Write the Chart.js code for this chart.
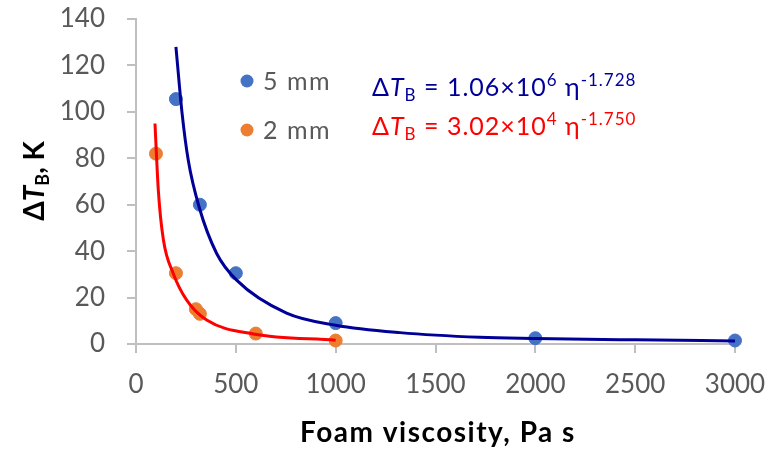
<!DOCTYPE html>
<html>
<head>
<meta charset="utf-8">
<script src="https://cdn.jsdelivr.net/npm/chart.js@4.4.1/dist/chart.umd.min.js"></script>
<style>
  body { margin: 0; background: #fff; }
  #wrap { width: 775px; height: 450px; position: relative; }
</style>
</head>
<body>
<div id="wrap"><canvas id="myChart"></canvas></div>
<script>
// measured points
var viscosity5 = [200, 320, 500, 1000, 2000, 3000];
var deltaT5 = [105.5, 60, 30.5, 9, 2.5, 1.5];
var viscosity2 = [100, 200, 300, 320, 600, 1000];
var deltaT2 = [82, 30.5, 15, 13, 4.5, 1.5];

// trend lines
var fitX5 = [200, 230, 262, 316, 404, 504, 754, 1000, 1322, 1722, 2000, 2500, 3000];
var fitY5 = [128, 100, 79, 59, 39, 27.5, 13.3, 8.1, 4.9, 2.9, 2.4, 1.8, 1.3];
var fitX2 = [95, 112, 137, 187, 254, 354, 588, 1000];
var fitY2 = [95, 66, 45, 30.3, 18.9, 10.3, 4.3, 1.6];

var seriesLabels = ['5 mm', '2 mm'];
var xTicks = [0, 500, 1000, 1500, 2000, 2500, 3000];
var yTicks = [0, 20, 40, 60, 80, 100, 120, 140];

function pts(xs, ys) {
    return xs.map(function (x, i) { return { x: x, y: ys[i] }; });
}

var FONT = 'Lato, "Open Sans", sans-serif';

// draws text made of several styled pieces
function drawRich(ctx, parts, x, y) {
    var cx = x;
    parts.forEach(function (p) {
        ctx.font = p.font;
        ctx.fillText(p.t, cx, y + (p.dy || 0));
        cx += ctx.measureText(p.t).width;
    });
}
function richWidth(ctx, parts) {
    var w = 0;
    parts.forEach(function (p) { ctx.font = p.font; w += ctx.measureText(p.t).width; });
    return w;
}

function equation(a, e, ex) {
    return [
        { t: 'Δ', font: '25px ' + FONT },
        { t: 'T', font: 'italic 25px ' + FONT },
        { t: 'B', font: '17px ' + FONT, dy: 5 },
        { t: ' = ' + a + '×10', font: '25px ' + FONT },
        { t: e, font: '17px ' + FONT, dy: -10 },
        { t: ' η', font: '25px ' + FONT },
        { t: ex, font: '17px ' + FONT, dy: -10 }
    ];
}

var textPlugin = {
    id: 'texts',
    afterDraw: function (chart) {
        var ctx = chart.ctx;
        ctx.save();
        ctx.textBaseline = 'alphabetic';

        // legend
        var legendY = [81, 130];
        var legendColors = ['#4472C4', '#ED7D31'];
        for (var i = 0; i < 2; i++) {
            ctx.fillStyle = legendColors[i];
            ctx.beginPath();
            ctx.arc(247, legendY[i], 6.5, 0, Math.PI * 2);
            ctx.fill();
            ctx.fillStyle = '#595959';
            ctx.font = '25px ' + FONT;
            ctx.letterSpacing = '1.5px';
            ctx.fillText(seriesLabels[i], 263, legendY[i] + 9);
        }

        // equations
        ctx.letterSpacing = '1px';
        ctx.fillStyle = '#000099';
        drawRich(ctx, equation('1.06', '6', '-1.728'), 372, 96);
        ctx.fillStyle = '#FF0000';
        drawRich(ctx, equation('3.02', '4', '-1.750'), 372, 135);

        // axis titles
        ctx.fillStyle = '#000';
        ctx.font = 'bold 28px ' + FONT;
        ctx.letterSpacing = '1.5px';
        ctx.textAlign = 'center';
        ctx.fillText('Foam viscosity, Pa s', 438, 442);
        ctx.textAlign = 'left';

        ctx.letterSpacing = '0px';
        var yTitle = [
            { t: 'Δ', font: 'bold 28px ' + FONT },
            { t: 'T', font: 'bold italic 28px ' + FONT },
            { t: 'B', font: 'bold 18px ' + FONT, dy: 5 },
            { t: ', K', font: 'bold 28px ' + FONT }
        ];
        ctx.translate(44, 181);
        ctx.rotate(-Math.PI / 2);
        drawRich(ctx, yTitle, -richWidth(ctx, yTitle) / 2, 0);
        ctx.restore();
    }
};

var ctx = document.getElementById('myChart');
var myChart = new Chart(ctx, {
    type: 'scatter',
    data: {
        datasets: [
            {
                label: '5 mm',
                data: pts(viscosity5, deltaT5),
                backgroundColor: '#4472C4',
                borderColor: '#4472C4',
                pointRadius: 6.5,
                clip: false,
                order: 1
            },
            {
                label: '2 mm',
                data: pts(viscosity2, deltaT2),
                backgroundColor: '#ED7D31',
                borderColor: '#ED7D31',
                pointRadius: 6.5,
                clip: false,
                order: 1
            },
            {
                label: 'fit 5 mm',
                data: pts(fitX5, fitY5),
                showLine: true,
                borderColor: '#000099',
                borderWidth: 3,
                pointRadius: 0,
                cubicInterpolationMode: 'monotone',
                clip: false,
                order: 0
            },
            {
                label: 'fit 2 mm',
                data: pts(fitX2, fitY2),
                showLine: true,
                borderColor: '#FF0000',
                borderWidth: 3,
                pointRadius: 0,
                cubicInterpolationMode: 'monotone',
                clip: false,
                order: 0
            }
        ]
    },
    options: {
        responsive: true,
        maintainAspectRatio: false,
        animation: false,
        layout: { padding: { top: 19, right: 40, left: 0, bottom: 0 } },
        plugins: {
            legend: { display: false },
            tooltip: { enabled: false }
        },
        scales: {
            x: {
                type: 'linear',
                min: 0,
                max: 3000,
                afterBuildTicks: function (scale) {
                    scale.ticks = xTicks.map(function (v) { return { value: v }; });
                },
                afterFit: function (scale) {
                    scale.height = 106;
                    scale.paddingLeft = 0;
                    scale.paddingRight = 0;
                },
                grid: { drawOnChartArea: false, drawTicks: true, tickLength: 9, color: '#BFBFBF', lineWidth: 2 },
                border: { color: '#BFBFBF', width: 2 },
                ticks: {
                    color: '#595959', font: { family: FONT, size: 26 }, padding: 16, maxRotation: 0,
                    callback: function (v) { return String(v); }
                }
            },
            y: {
                min: 0,
                max: 140,
                afterBuildTicks: function (scale) {
                    scale.ticks = yTicks.map(function (v) { return { value: v }; });
                },
                afterFit: function (scale) {
                    scale.width = 136;
                    scale.paddingTop = 0;
                    scale.paddingBottom = 0;
                },
                grid: { drawOnChartArea: false, drawTicks: true, tickLength: 9, color: '#BFBFBF', lineWidth: 2 },
                border: { color: '#BFBFBF', width: 2 },
                ticks: { color: '#595959', font: { family: FONT, size: 26 }, padding: 22 }
            }
        }
    },
    plugins: [textPlugin]
});
</script>
</body>
</html>
